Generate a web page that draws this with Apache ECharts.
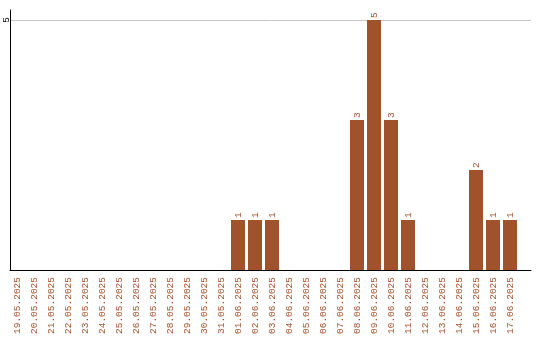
<!DOCTYPE html>
<html>
<head>
<meta charset="utf-8">
<script src="https://cdn.jsdelivr.net/npm/echarts@6/dist/echarts.min.js"></script>
<style>
  html, body { margin: 0; padding: 0; background: #fff; }
  #chart { width: 540px; height: 340px; }
</style>
</head>
<body>
<div id="chart"></div>
<script>
// dates on the x axis
const dates = [
  '19.05.2025', '20.05.2025', '21.05.2025', '22.05.2025', '23.05.2025',
  '24.05.2025', '25.05.2025', '26.05.2025', '27.05.2025', '28.05.2025',
  '29.05.2025', '30.05.2025', '31.05.2025', '01.06.2025', '02.06.2025',
  '03.06.2025', '04.06.2025', '05.06.2025', '06.06.2025', '07.06.2025',
  '08.06.2025', '09.06.2025', '10.06.2025', '11.06.2025', '12.06.2025',
  '13.06.2025', '14.06.2025', '15.06.2025', '16.06.2025', '17.06.2025'
];
// count per day
const counts = [
  0, 0, 0, 0, 0, 0, 0, 0, 0, 0, 0, 0, 0,
  1, 1, 1,
  0, 0, 0, 0,
  3, 5, 3, 1,
  0, 0, 0,
  2, 1, 1
];
const yMax = 5.2;
const yTick = 5;

const brown = '#a0522d';
const monoFont = '"Liberation Mono", "DejaVu Sans Mono", monospace';

var myChart = echarts.init(document.getElementById('chart'));

const option = {
  animation: false,
  backgroundColor: '#fff',
  grid: [
    // frame: axis lines, gridline, y label
    { left: 10, right: 9, top: 10, bottom: 70, outerBoundsMode: 'none', containLabel: false },
    // bars + date labels
    { left: 8.5, width: 510, top: 10, bottom: 70, outerBoundsMode: 'none', containLabel: false }
  ],
  xAxis: [
    {
      gridIndex: 0,
      type: 'value',
      min: 0,
      max: 1,
      axisLine: { show: true, lineStyle: { color: '#000', width: 1 } },
      axisTick: { show: false },
      axisLabel: { show: false },
      splitLine: { show: false }
    },
    {
      gridIndex: 1,
      type: 'category',
      data: dates,
      boundaryGap: true,
      axisLine: { show: false },
      axisTick: { show: false },
      axisLabel: {
        interval: 0,
        rotate: 90,
        margin: 7,
        color: brown,
        fontFamily: monoFont,
        fontSize: 9.5
      }
    }
  ],
  yAxis: [
    {
      gridIndex: 0,
      type: 'value',
      min: 0,
      max: yMax,
      interval: yTick,
      axisLine: { show: true, lineStyle: { color: '#000', width: 1 } },
      axisTick: { show: false },
      axisLabel: {
        rotate: 90,
        margin: -1,
        color: '#000',
        fontFamily: monoFont,
        fontSize: 9.5,
        formatter: function (v) { return v === yTick ? String(v) : ''; }
      },
      splitLine: {
        show: true,
        showMinLine: false,
        showMaxLine: false,
        lineStyle: { color: '#c8c8c8', width: 1 }
      }
    },
    {
      gridIndex: 1,
      type: 'value',
      min: 0,
      max: yMax,
      show: false
    }
  ],
  series: [
    {
      type: 'bar',
      xAxisIndex: 1,
      yAxisIndex: 1,
      data: counts,
      barWidth: 14,
      itemStyle: { color: brown },
      label: {
        show: true,
        position: 'top',
        rotate: 90,
        align: 'left',
        verticalAlign: 'middle',
        distance: 2,
        color: brown,
        fontFamily: monoFont,
        fontSize: 9.5,
        formatter: function (p) { return p.value ? String(p.value) : ''; }
      }
    }
  ]
};

myChart.setOption(option);
</script>
</body>
</html>
